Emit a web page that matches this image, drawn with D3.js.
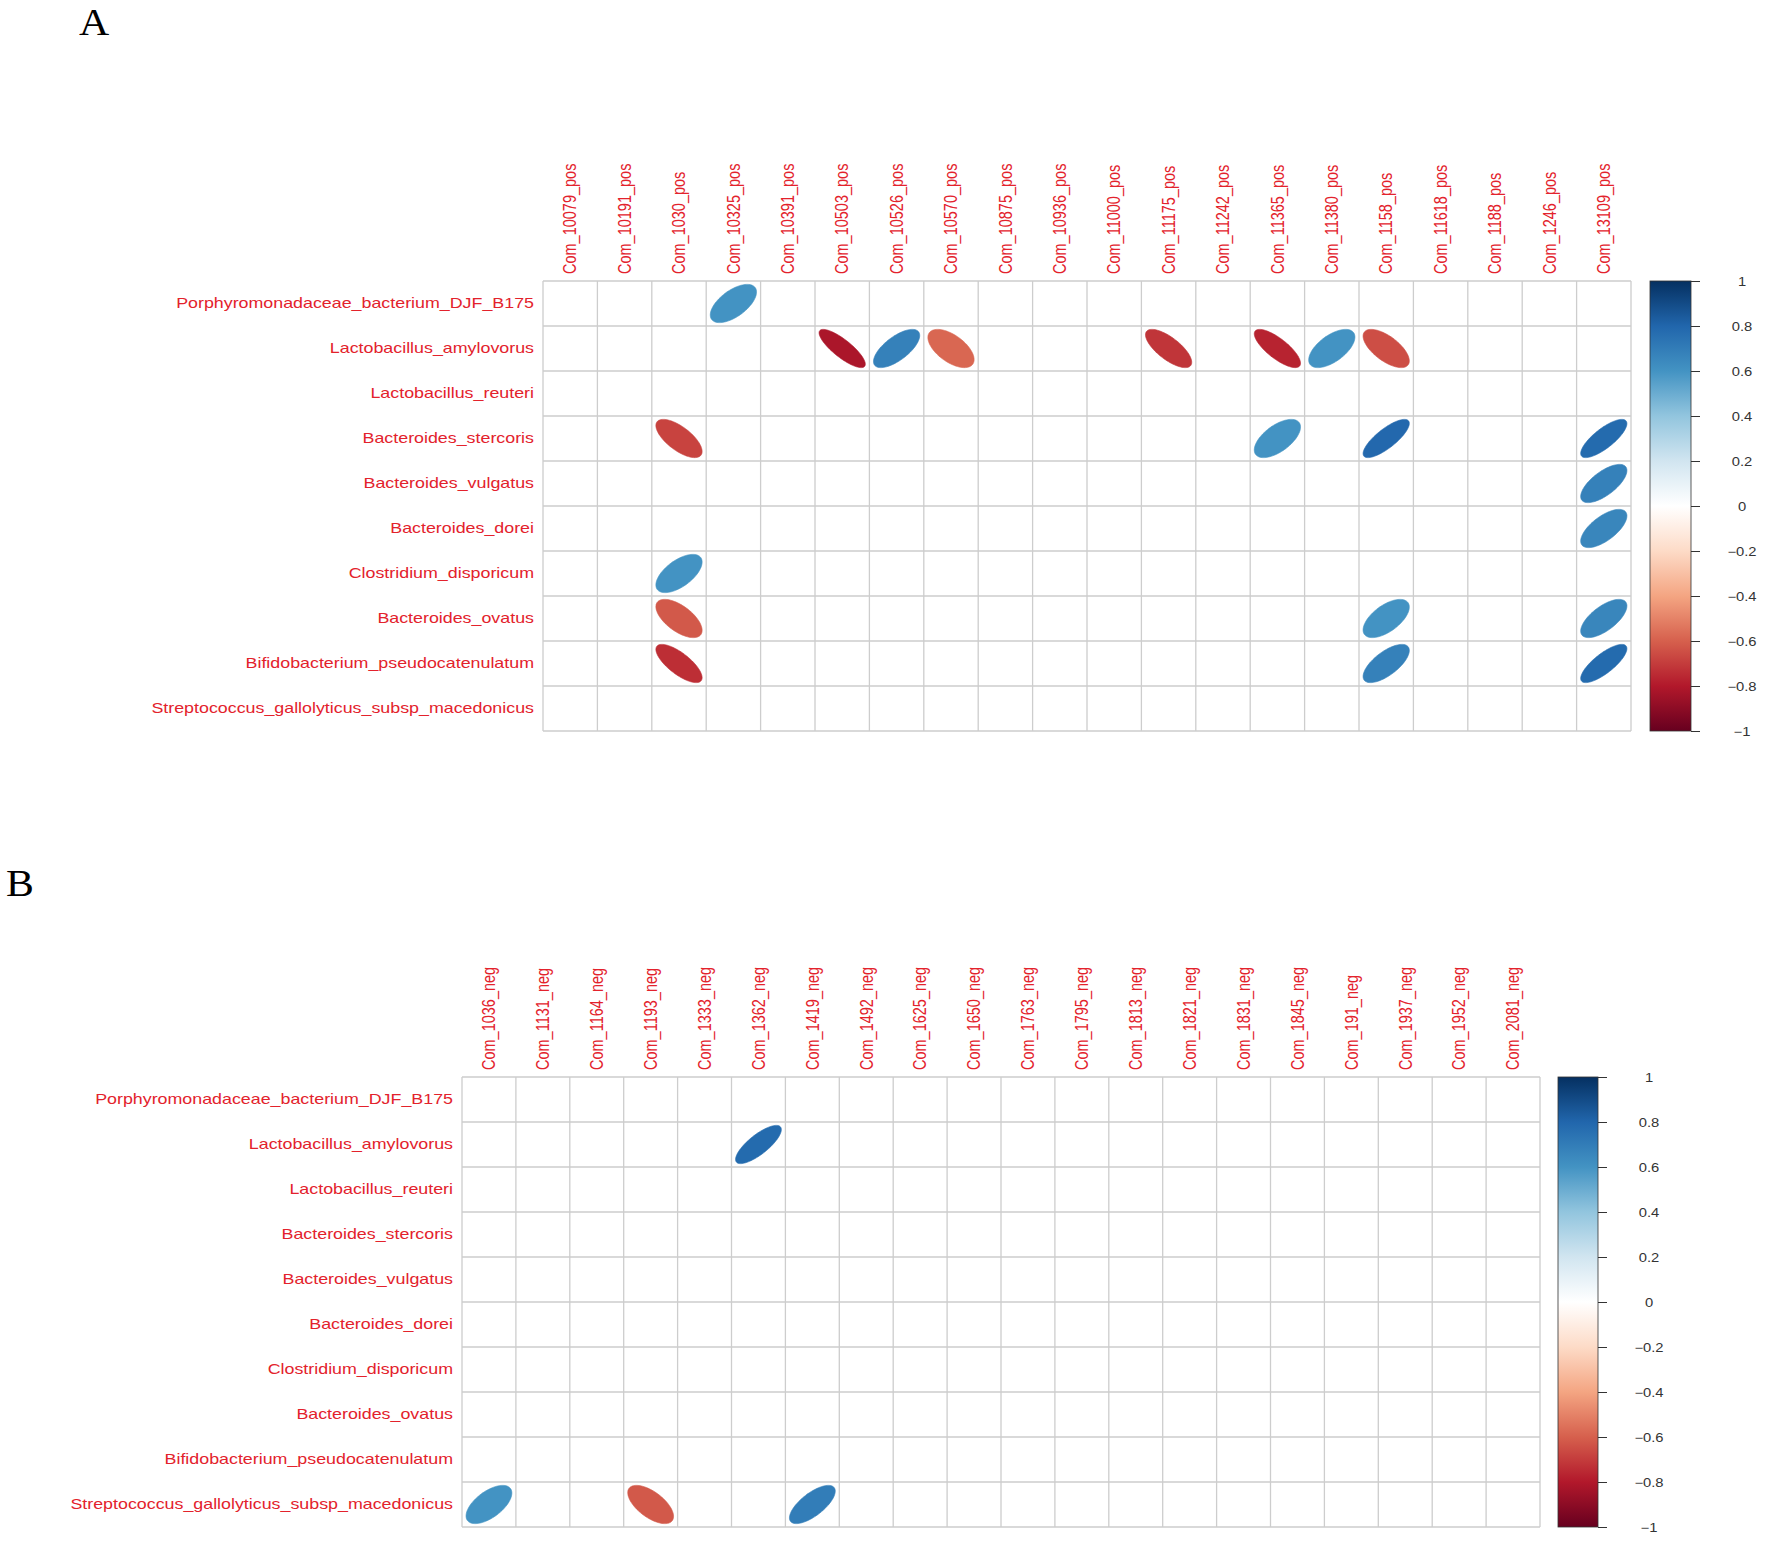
<!DOCTYPE html>
<html>
<head>
<meta charset="utf-8">
<script src="https://cdn.jsdelivr.net/npm/d3@7"></script>
<style>
  body { margin: 0; background: #fff; }
  svg { display: block; }
</style>
</head>
<body>
<svg id="mainsvg" width="1772" height="1545"></svg>
<script>
// species on the rows (same for both panels)
let species = [
    "Porphyromonadaceae_bacterium_DJF_B175",
    "Lactobacillus_amylovorus",
    "Lactobacillus_reuteri",
    "Bacteroides_stercoris",
    "Bacteroides_vulgatus",
    "Bacteroides_dorei",
    "Clostridium_disporicum",
    "Bacteroides_ovatus",
    "Bifidobacterium_pseudocatenulatum",
    "Streptococcus_gallolyticus_subsp_macedonicus"
];

let compoundsA = ["Com_10079_pos", "Com_10191_pos", "Com_1030_pos", "Com_10325_pos", "Com_10391_pos",
    "Com_10503_pos", "Com_10526_pos", "Com_10570_pos", "Com_10875_pos", "Com_10936_pos",
    "Com_11000_pos", "Com_11175_pos", "Com_11242_pos", "Com_11365_pos", "Com_11380_pos",
    "Com_1158_pos", "Com_11618_pos", "Com_1188_pos", "Com_1246_pos", "Com_13109_pos"];

let compoundsB = ["Com_1036_neg", "Com_1131_neg", "Com_1164_neg", "Com_1193_neg", "Com_1333_neg",
    "Com_1362_neg", "Com_1419_neg", "Com_1492_neg", "Com_1625_neg", "Com_1650_neg",
    "Com_1763_neg", "Com_1795_neg", "Com_1813_neg", "Com_1821_neg", "Com_1831_neg",
    "Com_1845_neg", "Com_191_neg", "Com_1937_neg", "Com_1952_neg", "Com_2081_neg"];

// significant correlations only: [species, compound, r]
let corrA = [
    ["Porphyromonadaceae_bacterium_DJF_B175", "Com_10325_pos", 0.60],
    ["Lactobacillus_amylovorus", "Com_10503_pos", -0.82],
    ["Lactobacillus_amylovorus", "Com_10526_pos", 0.68],
    ["Lactobacillus_amylovorus", "Com_10570_pos", -0.58],
    ["Lactobacillus_amylovorus", "Com_11175_pos", -0.72],
    ["Lactobacillus_amylovorus", "Com_11365_pos", -0.77],
    ["Lactobacillus_amylovorus", "Com_11380_pos", 0.60],
    ["Lactobacillus_amylovorus", "Com_1158_pos", -0.65],
    ["Bacteroides_stercoris", "Com_1030_pos", -0.68],
    ["Bacteroides_stercoris", "Com_11365_pos", 0.60],
    ["Bacteroides_stercoris", "Com_1158_pos", 0.79],
    ["Bacteroides_stercoris", "Com_13109_pos", 0.78],
    ["Bacteroides_vulgatus", "Com_13109_pos", 0.68],
    ["Bacteroides_dorei", "Com_13109_pos", 0.66],
    ["Clostridium_disporicum", "Com_1030_pos", 0.60],
    ["Bacteroides_ovatus", "Com_1030_pos", -0.62],
    ["Bacteroides_ovatus", "Com_1158_pos", 0.60],
    ["Bacteroides_ovatus", "Com_13109_pos", 0.66],
    ["Bifidobacterium_pseudocatenulatum", "Com_1030_pos", -0.74],
    ["Bifidobacterium_pseudocatenulatum", "Com_1158_pos", 0.68],
    ["Bifidobacterium_pseudocatenulatum", "Com_13109_pos", 0.78]
];

let corrB = [
    ["Lactobacillus_amylovorus", "Com_1362_neg", 0.78],
    ["Streptococcus_gallolyticus_subsp_macedonicus", "Com_1036_neg", 0.60],
    ["Streptococcus_gallolyticus_subsp_macedonicus", "Com_1193_neg", -0.62],
    ["Streptococcus_gallolyticus_subsp_macedonicus", "Com_1419_neg", 0.70]
];

let legendTicks = [-1, -0.8, -0.6, -0.4, -0.2, 0, 0.2, 0.4, 0.6, 0.8, 1];

// RdBu palette (corrplot COL2)
let paletteStops = ["#67001F", "#B2182B", "#D6604D", "#F4A582", "#FDDBC7", "#FFFFFF",
    "#D1E5F0", "#92C5DE", "#4393C3", "#2166AC", "#053061"];

let svg = d3.select("#mainsvg");
let labelRed = "#e3222c";
let gridCol = "#cdcdcd";
let sx = 1.23; // the figure was stretched horizontally

let colorScale = d3.scaleLinear()
    .domain(d3.range(paletteStops.length).map(i => -1 + i * 2 / (paletteStops.length - 1)))
    .range(paletteStops)
    .interpolate(d3.interpolateRgb);

// gradient for the colour legend
let defs = svg.append("defs");
let grad = defs.append("linearGradient")
    .attr("id", "rdbu").attr("x1", 0).attr("y1", 1).attr("x2", 0).attr("y2", 0);
grad.selectAll("stop").data(paletteStops).enter().append("stop")
    .attr("offset", (d, i) => i / (paletteStops.length - 1))
    .attr("stop-color", d => d);

function ellipsePath(r, w, h) {
    let a = Math.acos(r);
    let pts = d3.range(99).map(i => {
        let k = i * 2 * Math.PI / 98;
        return [0.85 * Math.cos(k + a / 2) / 2 * w, -0.85 * Math.cos(k - a / 2) / 2 * h];
    });
    return d3.line().curve(d3.curveLinearClosed)(pts);
}

function drawPanel(cfg) {
    let g = svg.append("g").attr("class", "panel");
    let x = d3.scaleBand().domain(cfg.cols).range([cfg.left, cfg.left + cfg.cellW * cfg.cols.length]);
    let y = d3.scaleBand().domain(species).range([cfg.top, cfg.top + cfg.cellH * species.length]);
    let right = x.range()[1], bottom = y.range()[1];

    // grid
    let gridg = g.append("g").attr("stroke", gridCol).attr("stroke-width", 1.3);
    gridg.selectAll(".vline").data(d3.range(cfg.cols.length + 1)).enter().append("line")
        .attr("x1", i => cfg.left + i * x.bandwidth()).attr("x2", i => cfg.left + i * x.bandwidth())
        .attr("y1", cfg.top).attr("y2", bottom);
    gridg.selectAll(".hline").data(d3.range(species.length + 1)).enter().append("line")
        .attr("y1", i => cfg.top + i * y.bandwidth()).attr("y2", i => cfg.top + i * y.bandwidth())
        .attr("x1", cfg.left).attr("x2", right);

    // ellipses
    g.append("g").selectAll("path").data(cfg.data).enter().append("path")
        .attr("transform", d => "translate(" + (x(d[1]) + x.bandwidth() / 2) + "," + (y(d[0]) + y.bandwidth() / 2) + ")")
        .attr("d", d => ellipsePath(d[2], x.bandwidth(), y.bandwidth()))
        .attr("fill", d => colorScale(d[2]))
        .attr("stroke", d => colorScale(d[2]))
        .attr("stroke-width", 0.6);

    // row labels
    g.append("g").selectAll("text").data(species).enter().append("text")
        .attr("transform", d => "translate(" + (cfg.left - 9) + "," + (y(d) + y.bandwidth() / 2) + ") scale(" + sx + ",1)")
        .attr("dy", "0.28em")
        .attr("text-anchor", "end")
        .attr("font-family", "'Liberation Sans', Arial, sans-serif")
        .attr("font-size", 14.5)
        .attr("fill", labelRed)
        .text(d => d);

    // column labels
    g.append("g").selectAll("text").data(cfg.cols).enter().append("text")
        .attr("transform", d => "translate(" + (x(d) + x.bandwidth() / 2) + "," + (cfg.top - 7) + ") scale(" + sx + ",1) rotate(-90)")
        .attr("dy", "0.35em")
        .attr("text-anchor", "start")
        .attr("font-family", "'Liberation Sans', Arial, sans-serif")
        .attr("font-size", 14.5)
        .attr("fill", labelRed)
        .text(d => d);

    // colour legend
    let ly = d3.scaleLinear().domain([-1, 1]).range([bottom, cfg.top]);
    g.append("rect")
        .attr("x", cfg.barLeft).attr("y", cfg.top)
        .attr("width", cfg.barW).attr("height", bottom - cfg.top)
        .attr("fill", "url(#rdbu)")
        .attr("stroke", "#333").attr("stroke-width", 0.8);
    let axis = d3.axisRight(ly).tickValues(legendTicks).tickSize(9).tickFormat(d3.format(""));
    let ax = g.append("g")
        .attr("transform", "translate(" + (cfg.barLeft + cfg.barW) + ",0)")
        .call(axis);
    ax.select(".domain").remove();
    ax.selectAll(".tick line").attr("stroke", "#333");
    ax.selectAll(".tick text")
        .attr("x", 0).attr("dy", "0.35em")
        .attr("transform", "translate(51,0) scale(" + sx + ",1)")
        .attr("text-anchor", "middle")
        .attr("font-family", "'Liberation Sans', Arial, sans-serif")
        .attr("font-size", 12)
        .attr("fill", "#333");
}

drawPanel({cols: compoundsA, data: corrA, left: 543, top: 281, cellW: 54.4, cellH: 45, barLeft: 1650, barW: 41});
drawPanel({cols: compoundsB, data: corrB, left: 462, top: 1077, cellW: 53.9, cellH: 45, barLeft: 1558, barW: 40});

// panel letters
svg.selectAll(".panel-letter").data([["A", 79, 35], ["B", 6, 896]]).enter().append("text")
    .attr("class", "panel-letter")
    .attr("transform", d => "translate(" + d[1] + "," + d[2] + ") scale(1.1,1)")
    .attr("font-family", "'Liberation Serif', 'Times New Roman', serif")
    .attr("font-size", 38)
    .attr("fill", "#000")
    .text(d => d[0]);
</script>
</body>
</html>
